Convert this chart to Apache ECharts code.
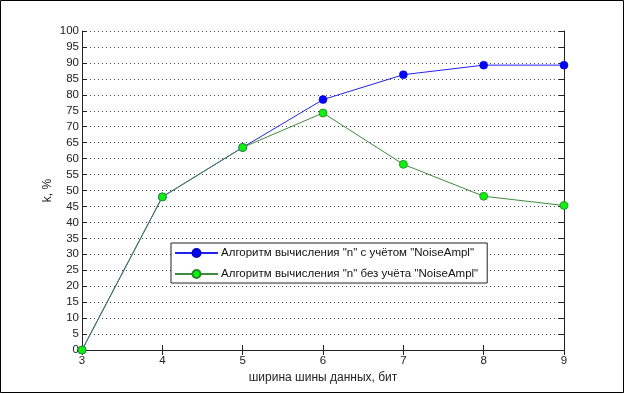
<!DOCTYPE html>
<html><head><meta charset="utf-8">
<script src="https://cdn.jsdelivr.net/npm/echarts@6/dist/echarts.min.js"></script>
<style>html,body{margin:0;padding:0;background:#fff}#c{width:625px;height:394px}</style>
</head><body><div id="c"></div>
<script>
const xValues = [3, 4, 5, 6, 7, 8, 9];
const seriesWithNoise = [0, 48, 63.5, 78.5, 86.3, 89.3, 89.3];
const seriesWithoutNoise = [0, 48, 63.5, 74.3, 58.2, 48.2, 45.3];
const seriesNames = ['Алгоритм вычисления "n" с учётом "NoiseAmpl"', 'Алгоритм вычисления "n" без учёта "NoiseAmpl"'];
const xAxisTitle = 'ширина шины данных, бит';
const yAxisTitle = 'k, %';

const font = 'Arial, "Liberation Sans", sans-serif';
const pairs = arr => xValues.map((x, i) => [x, arr[i]]);
const chart = echarts.init(document.getElementById('c'), null, {renderer: 'canvas'});
const axisLine = {show: true, lineStyle: {color: '#222', width: 1}};
chart.setOption({
  animation: false,
  backgroundColor: '#fff',
  grid: {left: 82, top: 31, right: 61, bottom: 44, containLabel: false},
  graphic: [{type: 'rect', shape: {x: 0.5, y: 0.5, width: 623, height: 392}, style: {fill: 'none', stroke: '#000', lineWidth: 1}, silent: true}],
  legend: {
    left: 171, top: 243, orient: 'vertical',
    backgroundColor: '#fff', borderColor: '#222', borderWidth: 1,
    padding: [4, 9, 3, 3], itemWidth: 43, itemHeight: 10, itemGap: 9,
    textStyle: {fontFamily: font, fontSize: 11.5, color: '#111', padding: [0, 0, 0, -2]},
    data: seriesNames
  },
  xAxis: [{
    type: 'value', min: 3, max: 9, interval: 1, position: 'bottom',
    axisLine: axisLine, axisTick: {show: true, inside: true, length: 5, lineStyle: {color: '#222'}},
    axisLabel: {fontFamily: font, fontSize: 11.5, color: '#222', margin: 5},
    splitLine: {show: false},
    name: xAxisTitle, nameLocation: 'middle', nameGap: 18,
    nameTextStyle: {fontFamily: font, fontSize: 12, color: '#222'}
  }, {
    type: 'value', min: 3, max: 9, interval: 1, position: 'top',
    axisLine: axisLine, axisTick: {show: true, inside: true, length: 5, lineStyle: {color: '#222'}},
    axisLabel: {show: false}, splitLine: {show: false}
  }],
  yAxis: [{
    type: 'value', min: 0, max: 100, interval: 5, position: 'left',
    axisLine: axisLine, axisTick: {show: true, inside: true, length: 5, lineStyle: {color: '#222'}},
    axisLabel: {fontFamily: font, fontSize: 11.5, color: '#222', margin: 3},
    splitLine: {show: true, lineStyle: {color: '#444', type: [1, 3], width: 1}},
    name: yAxisTitle, nameLocation: 'middle', nameGap: 28, nameMoveOverlap: false,
    nameTextStyle: {fontFamily: font, fontSize: 12, color: '#222'}
  }, {
    type: 'value', min: 0, max: 100, interval: 5, position: 'right',
    axisLine: axisLine, axisTick: {show: true, inside: true, length: 5, lineStyle: {color: '#222'}},
    axisLabel: {show: false}, splitLine: {show: false}
  }],
  series: [{
    name: seriesNames[0], type: 'line', data: pairs(seriesWithNoise),
    symbol: 'circle', symbolSize: 8,
    lineStyle: {color: '#2222ee', width: 1},
    itemStyle: {color: '#0000ff', borderColor: '#0000cc', borderWidth: 0.5}
  }, {
    name: seriesNames[1], type: 'line', data: pairs(seriesWithoutNoise),
    symbol: 'circle', symbolSize: 8,
    lineStyle: {color: '#3f8a3f', width: 1},
    itemStyle: {color: '#11ee11', borderColor: '#228822', borderWidth: 0.8}
  }]
});
</script></body></html>
